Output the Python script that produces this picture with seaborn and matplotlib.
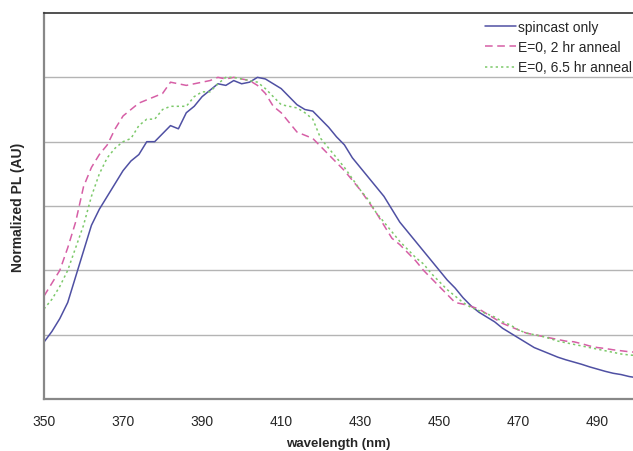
import numpy as np
import pandas as pd
import matplotlib
matplotlib.use('Agg')
import matplotlib.pyplot as plt
import seaborn as sns

# wavelength grid (nm) and normalized PL
wavelength = list(range(350, 502, 2))

spincast = [0.177, 0.21, 0.25, 0.30, 0.38, 0.46, 0.54, 0.59, 0.63, 0.67,
            0.71, 0.74, 0.76, 0.80, 0.80, 0.825, 0.85, 0.84, 0.89, 0.91,
            0.94, 0.96, 0.98, 0.975, 0.99, 0.98, 0.985, 1.0, 0.995, 0.98,
            0.965, 0.94, 0.915, 0.90, 0.895, 0.87, 0.845, 0.815, 0.79, 0.75,
            0.72, 0.69, 0.66, 0.63, 0.59, 0.55, 0.52, 0.49, 0.46, 0.43,
            0.40, 0.37, 0.345, 0.315, 0.29, 0.27, 0.255, 0.24, 0.22, 0.205,
            0.19, 0.175, 0.16, 0.15, 0.14, 0.13, 0.122, 0.115, 0.108, 0.10,
            0.093, 0.086, 0.08, 0.076, 0.07, 0.066]

anneal_2hr = [0.32, 0.36, 0.40, 0.47, 0.55, 0.66, 0.72, 0.76, 0.79, 0.84,
              0.88, 0.90, 0.92, 0.93, 0.94, 0.95, 0.985, 0.98, 0.975, 0.98,
              0.985, 0.99, 1.0, 0.995, 1.0, 0.995, 0.99, 0.975, 0.95, 0.91,
              0.89, 0.86, 0.83, 0.82, 0.81, 0.785, 0.76, 0.735, 0.71, 0.68,
              0.65, 0.615, 0.58, 0.54, 0.50, 0.48, 0.455, 0.43, 0.40, 0.375,
              0.35, 0.325, 0.30, 0.295, 0.288, 0.28, 0.265, 0.25, 0.235, 0.225,
              0.215, 0.205, 0.20, 0.195, 0.19, 0.185, 0.18, 0.178, 0.172, 0.165,
              0.16, 0.157, 0.153, 0.15, 0.147, 0.145]

anneal_65hr = [0.28, 0.31, 0.35, 0.40, 0.47, 0.54, 0.63, 0.70, 0.75, 0.78,
               0.80, 0.81, 0.85, 0.87, 0.87, 0.90, 0.91, 0.91, 0.91, 0.94,
               0.955, 0.955, 0.98, 1.0, 1.0, 0.995, 0.99, 0.985, 0.965, 0.94,
               0.915, 0.91, 0.905, 0.89, 0.87, 0.81, 0.78, 0.75, 0.72, 0.685,
               0.65, 0.62, 0.58, 0.55, 0.52, 0.49, 0.465, 0.44, 0.42, 0.39,
               0.365, 0.34, 0.32, 0.30, 0.285, 0.275, 0.265, 0.255, 0.24, 0.23,
               0.215, 0.205, 0.20, 0.195, 0.188, 0.18, 0.175, 0.17, 0.165, 0.16,
               0.155, 0.15, 0.145, 0.14, 0.137, 0.135]

labels = ['spincast only', 'E=0, 2 hr anneal', 'E=0, 6.5 hr anneal']

sns.set_style('white')
plt.rcParams['font.family'] = ['Liberation Sans', 'DejaVu Sans']

fig = plt.figure(figsize=(6.33, 4.52), dpi=100)
ax = fig.add_axes([0.0695, 0.115, 0.9305, 0.854])

# horizontal grid lines
for g in [0.2, 0.4, 0.6, 0.8, 1.0]:
    ax.axhline(g, color='#b4b4b4', lw=1.0, zorder=0)

sns.lineplot(x=wavelength, y=spincast, ax=ax, color='#4f50a3', lw=1.1,
             label=labels[0])
sns.lineplot(x=wavelength, y=anneal_2hr, ax=ax, color='#d65fa6', lw=1.1,
             linestyle=(0, (5, 3)), label=labels[1])
sns.lineplot(x=wavelength, y=anneal_65hr, ax=ax, color='#7cc96a', lw=1.1,
             linestyle=(0, (1.5, 2)), label=labels[2])

ax.set_xlim(350, 499)
ax.set_ylim(0, 1.2)
ax.set_xticks(range(350, 500, 20))
ax.set_yticks([])
ax.tick_params(axis='x', direction='out', length=4, width=1, color='#888888',
               labelsize=10, pad=7)

for side in ['left', 'bottom']:
    ax.spines[side].set_color('#888888')
    ax.spines[side].set_linewidth(1.6)
ax.spines['top'].set_color('#333333')
ax.spines['top'].set_linewidth(1.2)
ax.spines['right'].set_visible(False)

ax.set_xlabel('wavelength (nm)', fontsize=9.5, fontweight='bold', labelpad=6)
ax.set_ylabel('Normalized PL (AU)', fontsize=10, fontweight='bold', labelpad=14)

ax.legend(loc='upper left', bbox_to_anchor=(485 / 633, 1 - 21 / 452),
          bbox_transform=fig.transFigure, frameon=False, fontsize=10,
          handlelength=2.2, handletextpad=0.2, labelspacing=0.45,
          borderpad=0, borderaxespad=0)

fig.savefig('out.png', dpi=100)
